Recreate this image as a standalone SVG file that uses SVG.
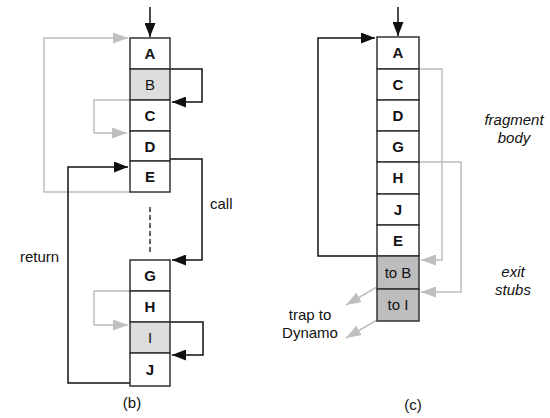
<svg xmlns="http://www.w3.org/2000/svg" width="550" height="418" viewBox="0 0 550 418">
<style>
.box{fill:#fff;stroke:#333;stroke-width:1.5}
.lite{fill:#dcdcdc}
.stub{fill:#bdbdbd}
.lbl{font-family:"Liberation Sans",Arial,sans-serif;font-size:15px;font-weight:bold;text-anchor:middle;fill:#111}
.reg{font-weight:normal}
.txt{font-family:"Liberation Sans",Arial,sans-serif;font-size:15px;fill:#111}
.it{font-style:italic;text-anchor:middle}
.blk{fill:none;stroke:#111;stroke-width:1.5}
.gry{fill:none;stroke:#bfbfbf;stroke-width:1.5}
</style>
<defs>
<marker id="ab" viewBox="0 0 10 10" refX="10" refY="5" markerWidth="14" markerHeight="11" markerUnits="userSpaceOnUse" orient="auto" preserveAspectRatio="none"><path d="M0,0L10,5L0,10z" fill="#111"/></marker>
<marker id="ag" viewBox="0 0 10 10" refX="10" refY="5" markerWidth="15" markerHeight="11" markerUnits="userSpaceOnUse" orient="auto" preserveAspectRatio="none"><path d="M0,0L10,5L0,10z" fill="#bfbfbf"/></marker>
<marker id="abw" viewBox="0 0 10 10" refX="10" refY="5" markerWidth="14" markerHeight="11" markerUnits="userSpaceOnUse" orient="auto" preserveAspectRatio="none"><path d="M0,0L10,5L0,10z" fill="#111"/></marker>
</defs>

<g id="connectors">
<path class="blk" d="M150,7V37" marker-end="url(#ab)"/>
<path class="gry" d="M130,192H44V38H128" marker-end="url(#ag)"/>
<path class="blk" d="M170,69H202V102H172" marker-end="url(#abw)"/>
<path class="gry" d="M130,100H94V133H127" marker-end="url(#ag)"/>
<path class="blk" d="M170,159H202V260H172" marker-end="url(#abw)"/>
<path class="blk" d="M130,383H68V167H128" marker-end="url(#abw)"/>
<path class="gry" d="M130,291H94V325H128" marker-end="url(#ag)"/>
<path class="blk" d="M170,322H203V355H172" marker-end="url(#abw)"/>
<path d="M150,207V252" fill="none" stroke="#333" stroke-width="1.5" stroke-dasharray="5,3"/>
<path class="blk" d="M398,7V36" marker-end="url(#ab)"/>
<path class="blk" d="M377,256H318V38H375" marker-end="url(#abw)"/>
<path class="gry" d="M419,69H442V260H421" marker-end="url(#ag)"/>
<path class="gry" d="M419,162H461V292H421" marker-end="url(#ag)"/>
<path class="gry" d="M377,287L346,305" marker-end="url(#ag)"/>
<path class="gry" d="M377,320L346,338" marker-end="url(#ag)"/>
</g>

<g id="b-A"><rect class="box" x="130" y="38" width="40" height="31"/><text class="lbl" x="150" y="59">A</text></g>
<g id="b-B"><rect class="box lite" x="130" y="69" width="40" height="31"/><text class="lbl reg" x="150" y="90">B</text></g>
<g id="b-C"><rect class="box" x="130" y="100" width="40" height="31"/><text class="lbl" x="150" y="121">C</text></g>
<g id="b-D"><rect class="box" x="130" y="131" width="40" height="30"/><text class="lbl" x="150" y="152">D</text></g>
<g id="b-E"><rect class="box" x="130" y="161" width="40" height="31"/><text class="lbl" x="150" y="182">E</text></g>

<g id="b-G"><rect class="box" x="130" y="260" width="40" height="31"/><text class="lbl" x="150" y="281">G</text></g>
<g id="b-H"><rect class="box" x="130" y="291" width="40" height="31"/><text class="lbl" x="150" y="312">H</text></g>
<g id="b-I"><rect class="box lite" x="130" y="322" width="40" height="31"/><text class="lbl reg" x="150" y="343">I</text></g>
<g id="b-J"><rect class="box" x="130" y="353" width="40" height="33"/><text class="lbl" x="150" y="375">J</text></g>

<g id="c-A"><rect class="box" x="377" y="37" width="42" height="32"/><text class="lbl" x="398" y="58">A</text></g>
<g id="c-C"><rect class="box" x="377" y="69" width="42" height="31"/><text class="lbl" x="398" y="90">C</text></g>
<g id="c-D"><rect class="box" x="377" y="100" width="42" height="31"/><text class="lbl" x="398" y="121">D</text></g>
<g id="c-G"><rect class="box" x="377" y="131" width="42" height="31"/><text class="lbl" x="398" y="152">G</text></g>
<g id="c-H"><rect class="box" x="377" y="162" width="42" height="32"/><text class="lbl" x="398" y="183">H</text></g>
<g id="c-J"><rect class="box" x="377" y="194" width="42" height="31"/><text class="lbl" x="398" y="215">J</text></g>
<g id="c-E"><rect class="box" x="377" y="225" width="42" height="31"/><text class="lbl" x="398" y="246">E</text></g>
<g id="c-toB"><rect class="box stub" x="377" y="256" width="42" height="33"/><text class="lbl reg" x="398" y="278">to B</text></g>
<g id="c-toI"><rect class="box stub" x="377" y="289" width="42" height="32"/><text class="lbl reg" x="398" y="310">to I</text></g>

<g id="labels">
<text class="txt" x="210" y="209">call</text>
<text class="txt" x="20" y="262">return</text>
<text class="txt" x="132" y="408" text-anchor="middle">(b)</text>
<text class="txt" x="413" y="410" text-anchor="middle">(c)</text>
<text class="txt it" x="514" y="125">fragment</text>
<text class="txt it" x="514" y="143">body</text>
<text class="txt it" x="513" y="277">exit</text>
<text class="txt it" x="513" y="295">stubs</text>
<text class="txt" x="310" y="320" text-anchor="middle">trap to</text>
<text class="txt" x="310" y="338" text-anchor="middle">Dynamo</text>
</g>
</svg>
